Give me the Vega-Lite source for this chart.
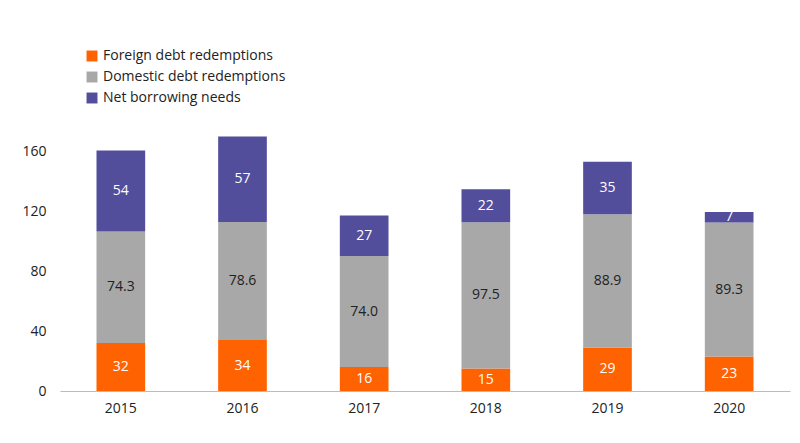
{
  "$schema": "https://vega.github.io/schema/vega-lite/v6.json",
  "autosize": "none",
  "width": 730,
  "height": 270,
  "padding": {"left": 60, "top": 121, "right": 10, "bottom": 52},
  "background": "white",
  "config": {"view": {"stroke": null}, "font": "Open Sans"},
  "data": {
    "values": [
      {"year": "2015", "series": "Foreign debt redemptions", "o": 1, "v": 32, "label": "32"},
      {"year": "2015", "series": "Domestic debt redemptions", "o": 2, "v": 74.3, "label": "74.3"},
      {"year": "2015", "series": "Net borrowing needs", "o": 3, "v": 54, "label": "54"},
      {"year": "2016", "series": "Foreign debt redemptions", "o": 1, "v": 34, "label": "34"},
      {"year": "2016", "series": "Domestic debt redemptions", "o": 2, "v": 78.6, "label": "78.6"},
      {"year": "2016", "series": "Net borrowing needs", "o": 3, "v": 57, "label": "57"},
      {"year": "2017", "series": "Foreign debt redemptions", "o": 1, "v": 16, "label": "16"},
      {"year": "2017", "series": "Domestic debt redemptions", "o": 2, "v": 74.0, "label": "74.0"},
      {"year": "2017", "series": "Net borrowing needs", "o": 3, "v": 27, "label": "27"},
      {"year": "2018", "series": "Foreign debt redemptions", "o": 1, "v": 15, "label": "15"},
      {"year": "2018", "series": "Domestic debt redemptions", "o": 2, "v": 97.5, "label": "97.5"},
      {"year": "2018", "series": "Net borrowing needs", "o": 3, "v": 22, "label": "22"},
      {"year": "2019", "series": "Foreign debt redemptions", "o": 1, "v": 29, "label": "29"},
      {"year": "2019", "series": "Domestic debt redemptions", "o": 2, "v": 88.9, "label": "88.9"},
      {"year": "2019", "series": "Net borrowing needs", "o": 3, "v": 35, "label": "35"},
      {"year": "2020", "series": "Foreign debt redemptions", "o": 1, "v": 23, "label": "23"},
      {"year": "2020", "series": "Domestic debt redemptions", "o": 2, "v": 89.3, "label": "89.3"},
      {"year": "2020", "series": "Net borrowing needs", "o": 3, "v": 7, "label": "7"}
    ]
  },
  "transform": [
    {"stack": "v", "groupby": ["year"], "sort": [{"field": "o"}], "as": ["y0", "y1"]},
    {"calculate": "(datum.y0 + datum.y1) / 2", "as": "mid"}
  ],
  "encoding": {
    "x": {
      "field": "year", "type": "nominal", "title": null,
      "scale": {"paddingInner": 0.6, "paddingOuter": 0.3},
      "axis": {"labelAngle": 0, "ticks": false, "domainColor": "#bbbbbb", "labelFontSize": 14, "labelColor": "#222", "labelPadding": 10}
    }
  },
  "layer": [
    {
      "mark": {"type": "bar"},
      "encoding": {
        "y": {
          "field": "y1", "type": "quantitative", "title": null,
          "scale": {"domain": [0, 180]},
          "axis": {"values": [0, 20, 40, 60, 80, 100, 120, 140, 160, 180], "labelOverlap": false, "grid": false, "domain": false, "ticks": false, "labelFontSize": 14, "labelColor": "#222", "labelPadding": 14}
        },
        "y2": {"field": "y0"},
        "color": {
          "field": "series", "type": "nominal",
          "scale": {
            "domain": ["Foreign debt redemptions", "Domestic debt redemptions", "Net borrowing needs"],
            "range": ["#FF6200", "#A8A8A8", "#524E9C"]
          },
          "legend": {
            "title": null, "orient": "none", "legendX": 25, "legendY": -72,
            "symbolType": "square", "symbolSize": 120, "labelFontSize": 14, "labelColor": "#222", "rowPadding": 7, "labelLimit": 300
          }
        }
      }
    },
    {
      "mark": {"type": "text", "fontSize": 14, "baseline": "middle"},
      "encoding": {
        "y": {"field": "mid", "type": "quantitative"},
        "text": {"field": "label"},
        "color": {
          "condition": {"test": "datum.o == 2", "value": "#222222"},
          "value": "white"
        }
      }
    }
  ]
}
